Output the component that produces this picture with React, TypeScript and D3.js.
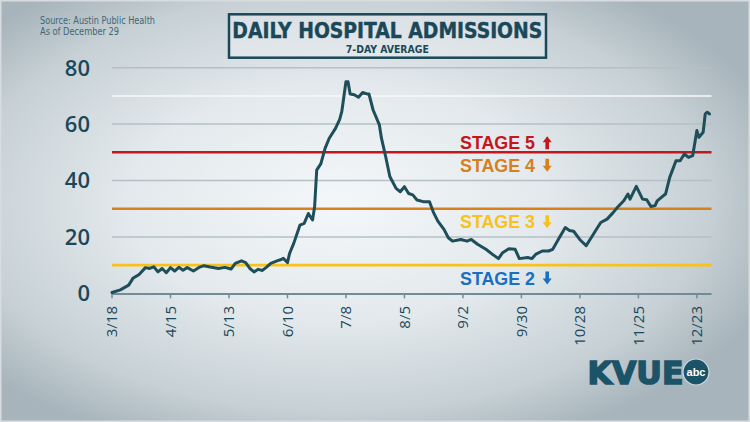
import * as d3 from "d3";

// Austin Public Health, 7-day average of daily hospital admissions (2020)
const DATES = [
  "3/18", "3/22", "3/26", "3/28", "3/31", "4/3", "4/5", "4/7", "4/9", "4/11",
  "4/13", "4/15", "4/17", "4/19", "4/21", "4/23", "4/26", "4/29", "5/1", "5/4",
  "5/8", "5/11", "5/14", "5/16", "5/19", "5/21", "5/23", "5/25", "5/27", "5/29",
  "5/31", "6/2", "6/5", "6/7", "6/8", "6/10", "6/11", "6/13", "6/16", "6/18",
  "6/20", "6/22", "6/23", "6/24", "6/26", "6/28", "6/30", "7/3", "7/5", "7/6",
  "7/8", "7/9", "7/10", "7/12", "7/14", "7/16", "7/18", "7/19", "7/21", "7/24",
  "7/25", "7/27", "7/29", "8/1", "8/3", "8/5", "8/7", "8/9", "8/11", "8/14",
  "8/17", "8/19", "8/21", "8/24", "8/26", "8/28", "9/1", "9/4", "9/6", "9/9",
  "9/13", "9/16", "9/19", "9/21", "9/24", "9/27", "9/29", "10/3", "10/5", "10/7",
  "10/10", "10/13", "10/15", "10/18", "10/21", "10/23", "10/25", "10/28", "10/31", "11/3",
  "11/5", "11/7", "11/10", "11/13", "11/15", "11/18", "11/20", "11/21", "11/24", "11/27",
  "11/29", "12/1", "12/3", "12/4", "12/6", "12/8", "12/10", "12/13", "12/15", "12/17",
  "12/19", "12/21", "12/23", "12/24", "12/26", "12/27", "12/28", "12/29",
];
const VALUES = [
  0.3, 1.2, 2.9, 5.3, 6.7, 9.1, 8.8, 9.4, 7.6, 8.8,
  7.3, 9.1, 7.9, 9.2, 8.2, 9.1, 7.9, 9.3, 9.8, 9.3,
  8.8, 9.2, 8.6, 10.6, 11.5, 10.9, 8.8, 7.6, 8.5, 8.1,
  9.3, 10.6, 11.5, 12, 12.4, 10.9, 14.1, 17.7, 24.2, 24.8,
  28.3, 26, 30.7, 43.7, 46, 51.4, 55, 58.5, 61.7, 64.4,
  75, 75, 70.7, 70.4, 69.5, 71.2, 70.7, 70.7, 65, 59.7,
  55, 48.5, 41.4, 37.2, 36, 37.8, 35.4, 34.9, 33.1, 32.5,
  32.5, 28.5, 25.6, 22.6, 19.7, 18.5, 19.1, 18.5, 19.1, 17.4,
  15.6, 13.9, 12.3, 14.4, 15.8, 15.6, 12.3, 12.7, 12.3, 13.9,
  15, 15, 15.6, 19.5, 23.3, 22.3, 22, 19, 16.9, 20.4,
  22.8, 25.1, 26.3, 28.7, 30.5, 32.8, 35.2, 33.4, 37.9, 33.4,
  33.2, 30.8, 31.1, 32.8, 34, 35.2, 41.1, 47, 47, 49.4,
  48.2, 48.8, 57.7, 55.3, 57.1, 63.6, 64.2, 63.6,
];

const X_TICKS = ["3/18", "4/15", "5/13", "6/10", "7/8", "8/5", "9/2", "9/30", "10/28", "11/25", "12/23"];
const Y_LABELS = [0, 20, 40, 60, 80];
const GRID = [20, 40, 60, 70, 80];

const THRESHOLDS = [50, 30, 10];
const THRESHOLD_COLORS = ["#c4161c", "#d7801c", "#f8c21b"];

const STAGE_LABELS = ["STAGE 5", "STAGE 4", "STAGE 3", "STAGE 2"];
const STAGE_LEVELS = [50, 50, 30, 10];
const STAGE_DIRS = ["up", "down", "down", "down"];
const STAGE_COLORS = ["#c4161c", "#d7801c", "#f8c21b", "#1b6fc0"];

const YEAR = 2020;
const parse = d3.timeParse("%m/%d/%Y");
const toDate = (s: string) => parse(`${s}/${YEAR}`) as Date;

const W = 750;
const H = 422;
const INK = "#1a4858";
const LINE = "#1f4e5b";
const NARROW = "'Liberation Sans Narrow', 'DejaVu Sans Condensed', 'Liberation Sans', sans-serif";

function Arrow({ x, top, dir, color }: { x: number; top: number; dir: string; color: string }) {
  // 9px wide, 13px tall block arrow
  const w = 9, h = 13, head = 6, shaft = 3.6;
  const d =
    dir === "up"
      ? `M${x},${top} L${x + w / 2},${top + head} L${x + shaft / 2},${top + head} L${x + shaft / 2},${top + h} L${x - shaft / 2},${top + h} L${x - shaft / 2},${top + head} L${x - w / 2},${top + head} Z`
      : `M${x},${top + h} L${x + w / 2},${top + h - head} L${x + shaft / 2},${top + h - head} L${x + shaft / 2},${top} L${x - shaft / 2},${top} L${x - shaft / 2},${top + h - head} L${x - w / 2},${top + h - head} Z`;
  return <path d={d} fill={color} />;
}

export default function App() {
  const data = DATES.map((d, i) => ({ date: toDate(d), value: VALUES[i] }));

  const x = d3.scaleTime().domain([toDate("3/18"), toDate("12/30")]).range([112, 711.5]);
  const y = d3.scaleLinear().domain([0, 80]).range([293.3, 67.7]);
  const [x0, x1] = x.range();

  const line = d3
    .line<{ date: Date; value: number }>()
    .x((d) => x(d.date))
    .y((d) => y(d.value))
    .curve(d3.curveLinear);

  // label offsets relative to their threshold line
  const stageBaseline = (i: number) => y(STAGE_LEVELS[i]) + (i === 0 ? -3 : 19.5);

  return (
    <div style={{ position: "absolute", left: 0, top: 0 }}>
      <svg width={W} height={H} viewBox={`0 0 ${W} ${H}`} style={{ display: "block" }}>
        <defs>
          <radialGradient id="bg" cx="0.45" cy="0.48" r="0.62">
            <stop offset="0%" stopColor="#f4f7f9" />
            <stop offset="45%" stopColor="#e3e9ec" />
            <stop offset="80%" stopColor="#c6d0d5" />
            <stop offset="100%" stopColor="#a7b4bb" />
          </radialGradient>
        </defs>
        <rect width={W} height={H} fill="url(#bg)" />
        <rect x={0.75} y={0.75} width={W - 1.5} height={H - 1.5} fill="none" stroke="#d6dcdf" strokeWidth={1.5} />

        {/* source */}
        <g fill="#3f6776" fontFamily={NARROW} fontSize={10.5}>
          <text x={40} y={24} textLength={115} lengthAdjust="spacingAndGlyphs">Source: Austin Public Health</text>
          <text x={40} y={35} textLength={79} lengthAdjust="spacingAndGlyphs">As of December 29</text>
        </g>

        {/* title box */}
        <rect x={229} y={14.3} width={317} height={43.4} fill="#e9eef1" fillOpacity={0.5} stroke={INK} strokeWidth={2.5} />
        <text x={387.3} y={38.3} textAnchor="middle" fill={INK} stroke={INK} strokeWidth={0.4} fontFamily={NARROW}
          fontWeight={700} fontSize={21} textLength={310} lengthAdjust="spacingAndGlyphs">DAILY HOSPITAL ADMISSIONS</text>
        <text x={387.3} y={53.3} textAnchor="middle" fill={INK} fontFamily={NARROW} fontWeight={700} fontSize={10}
          textLength={83} lengthAdjust="spacingAndGlyphs">7-DAY AVERAGE</text>

        {/* grid */}
        {GRID.map((g) => (
          <line key={g} x1={x0} x2={x1} y1={y(g)} y2={y(g)}
            stroke={g === 70 ? "#f7f9fa" : "#b5c0c6"} strokeWidth={1.5} />
        ))}

        {/* y labels */}
        <g fill={INK} fontFamily="'Open Sans', sans-serif" fontSize={22} fontWeight={600} textAnchor="end">
          {Y_LABELS.map((v) => (
            <text key={v} x={90} y={y(v)} dy="0.36em">{v}</text>
          ))}
        </g>

        {/* thresholds */}
        {THRESHOLDS.map((t, i) => (
          <line key={t} x1={x0} x2={x1} y1={y(t)} y2={y(t)} stroke={THRESHOLD_COLORS[i]} strokeWidth={2.6} />
        ))}

        {/* stage labels */}
        {STAGE_LABELS.map((s, i) => {
          const base = stageBaseline(i);
          return (
            <g key={s}>
              <text x={460} y={base} fill={STAGE_COLORS[i]} fontFamily="'Liberation Sans', Arial, sans-serif"
                fontWeight={700} fontSize={17.5} textLength={75} lengthAdjust="spacingAndGlyphs">{s}</text>
              <Arrow x={547.2} top={base - 13} dir={STAGE_DIRS[i]} color={STAGE_COLORS[i]} />
            </g>
          );
        })}

        {/* x axis */}
        <line x1={x0} x2={x1} y1={y(0) + 0.7} y2={y(0) + 0.7} stroke="#6f8c98" strokeWidth={1.8} />
        {X_TICKS.map((t) => {
          const tx = x(toDate(t));
          return (
            <g key={t}>
              <line x1={tx} x2={tx} y1={y(0)} y2={y(0) + 5} stroke="#6f8c98" strokeWidth={1.5} />
              <text transform={`translate(${tx},306) rotate(-90)`} textAnchor="end" dy="0.36em"
                fill={INK} fontFamily="'Open Sans', sans-serif" fontWeight={500} fontSize={15}>{t}</text>
            </g>
          );
        })}

        {/* data */}
        <path d={line(data) ?? ""} fill="none" stroke={LINE} strokeWidth={3} strokeLinejoin="round" strokeLinecap="round" />

        {/* logo */}
        <text x={587.5} y={384.3} fill="#1b5468" stroke="#1b5468" strokeWidth={1.6} fontFamily="'DejaVu Sans', sans-serif"
          fontWeight={700} fontSize={32} textLength={96} lengthAdjust="spacingAndGlyphs">KVUE</text>
        <circle cx={696} cy={372} r={13} fill="#1b5468" stroke="#d3dade" strokeWidth={1.2} />
        <text x={696} y={372} dy="0.33em" textAnchor="middle" fill="#ffffff" fontFamily="'Liberation Sans', sans-serif"
          fontWeight={700} fontSize={11}>abc</text>
      </svg>
    </div>
  );
}
